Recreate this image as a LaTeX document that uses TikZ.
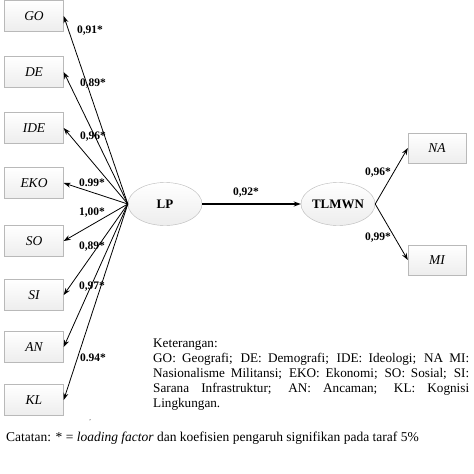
\documentclass[tikz,border=0pt]{standalone}
\usepackage{fontspec}
\setmainfont{Liberation Serif}
\usetikzlibrary{shapes.geometric,arrows.meta}
\tikzset{
  obsbox/.style={draw=gray!55, top color=white, bottom color=gray!14, minimum width=59pt, minimum height=31pt, inner sep=0pt, font=\fontsize{13.5}{15}\selectfont\itshape},
  latent/.style={ellipse, draw=gray!55, top color=white, bottom color=gray!14, minimum width=74pt, minimum height=43pt, inner sep=0pt, font=\fontsize{13}{15}\selectfont\bfseries},
  conn/.style={line width=0.8pt, -{Stealth[length=7pt,width=5pt]}},
  coef/.style={font=\fontsize{11.5}{13}\selectfont\bfseries, inner sep=0pt},
  legend/.style={inner sep=0pt, anchor=north west}
}
\begin{document}
\begin{tikzpicture}[x=1pt,y=-1pt]
\useasboundingbox (0,0) rectangle (474,474);
\fill[white] (0,0) rectangle (474,474);
\node[obsbox] (GO) at (34,16) {GO};
\node[obsbox] (DE) at (34,72) {DE};
\node[obsbox] (IDE) at (34,128) {IDE};
\node[obsbox] (EKO) at (34,183) {EKO};
\node[obsbox] (SO) at (34,241) {SO};
\node[obsbox] (SI) at (34,295) {SI};
\node[obsbox] (AN) at (34,347) {AN};
\node[obsbox] (KL) at (34,400) {KL};
\node[latent] (LP) at (165,204) {LP};
\node[latent] (TL) at (338,204) {TLMWN};
\node[obsbox, minimum width=58pt, minimum height=30pt] (NA) at (437,148) {NA};
\node[obsbox, minimum width=58pt, minimum height=30pt] (MI) at (437,260) {MI};
\foreach \b in {GO,DE,IDE,EKO,SO,SI,AN,KL} \draw[conn] (LP.west) -- (\b.east);
\draw[conn, line width=1.4pt] (LP.east) -- (TL.west);
\draw[conn] (TL.east) -- (NA.west);
\draw[conn] (TL.east) -- (MI.west);
\node[coef] (c1) at (90,31) {0,91*};
\node[coef] (c2) at (93,84) {0,89*};
\node[coef] (c3) at (93,137) {0,96*};
\node[coef] (c4) at (92,183) {0.99*};
\node[coef] (c5) at (92,213) {1,00*};
\node[coef] (c6) at (92,247) {0,89*};
\node[coef] (c7) at (92,287) {0,97*};
\node[coef] (c8) at (93,358) {0.94*};
\node[coef] (c9) at (246,193) {0,92*};
\node[coef] (c10) at (378,173) {0,96*};
\node[coef] (c11) at (378,238) {0,99*};
\node[legend, font=\fontsize{13.2}{15}\selectfont, text width=316pt, align=justify] (leg) at (153,339) {Keterangan:\\
GO: Geografi; DE: Demografi; IDE: Ideologi; NA MI:\linebreak
Nasionalisme Militansi; EKO: Ekonomi; SO: Sosial; SI:\linebreak
Sarana Infrastruktur; AN: Ancaman; KL: Kognisi\linebreak
Lingkungan.};
\node[legend, font=\fontsize{13.5}{15}\selectfont] (cat) at (6,432) {Catatan: * = \textit{loading factor} dan koefisien pengaruh signifikan pada taraf 5\%};
\node[font=\fontsize{6}{6}\selectfont, inner sep=0pt] (tick) at (90,421) {'};
\end{tikzpicture}
\end{document}
